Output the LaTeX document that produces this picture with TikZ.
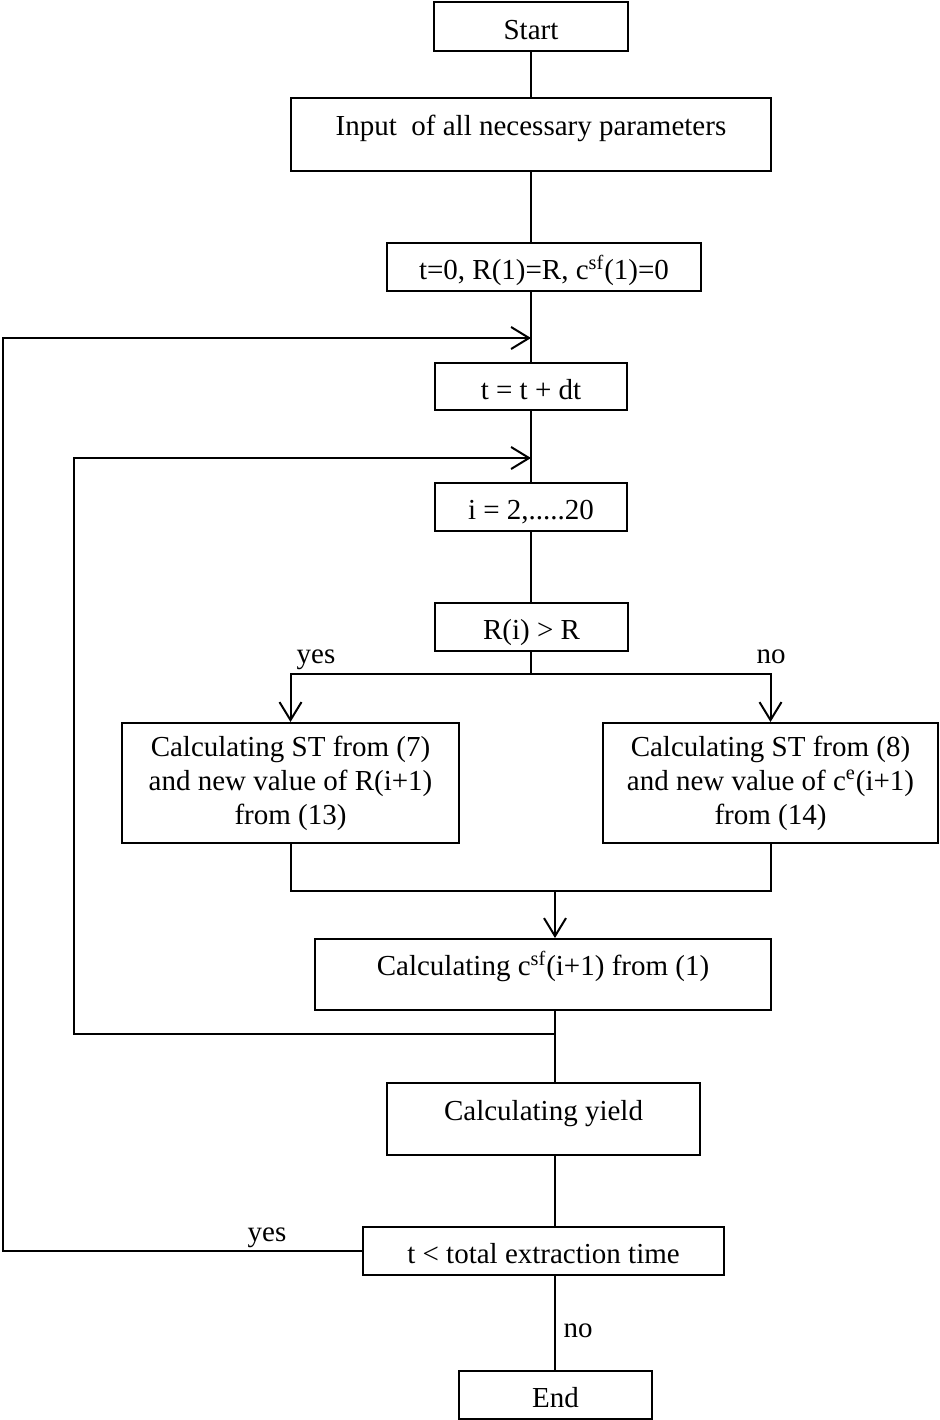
\documentclass[tikz,border=0pt]{standalone}
\usepackage{fontspec}
\setmainfont{Liberation Serif}
\usetikzlibrary{arrows.meta,positioning}
\tikzstyle{box} = [draw, line width=1pt, inner sep=2pt, align=center]
\tikzstyle{short} = [box, minimum height=24pt, text height=12.5pt, text depth=0pt]
\tikzstyle{tall} = [box, text height=10pt, text depth=9pt]
\tikzstyle{line} = [line width=1pt]
\tikzstyle{arrow} = [line width=1pt,-{Straight Barb[length=9pt,width=11pt,line width=1pt]}]

\begin{document}
\begin{tikzpicture}[x=0.5pt, y=-0.5pt, font=\fontsize{14.5}{17}\selectfont]
\useasboundingbox (0,0) rectangle (940,1420);

% Boxes
\node[short, minimum width=97pt, minimum height=24.5pt] (start) at (531,26.5) {Start};
\node[tall, minimum width=240pt, minimum height=36.5pt] (input) at (531,134.5) {Input \ of all necessary parameters};
\node[short, minimum width=157pt] (init) at (544,267) {t=0, R(1)=R, c\textsuperscript{sf}(1)=0};
\node[short, minimum width=96pt, minimum height=23.5pt] (tstep) at (531,386.5) {t = t + dt};
\node[short, minimum width=96pt] (iloop) at (531,507) {i = 2,.....20};
\node[short, minimum width=96.5pt] (cond) at (531.5,627) {R(i) > R};
\node[box, minimum width=168.5pt, minimum height=60pt] (left) at (290.5,783) {Calculating ST from (7)\\and new value of R(i+1)\\from (13)};
\node[box, minimum width=167.5pt, minimum height=60pt] (right) at (770.5,783) {Calculating ST from (8)\\and new value of c\textsuperscript{e}(i+1)\\from (14)};
\node[tall, minimum width=228pt, minimum height=35.5pt] (csf) at (543,974.5) {Calculating c\textsuperscript{sf}(i+1) from (1)};
\node[tall, minimum width=156.5pt, minimum height=36pt] (yield) at (543.5,1119) {Calculating yield};
\node[short, minimum width=180.5pt] (check) at (543.5,1251) {t < total extraction time};
\node[short, minimum width=96.5pt] (end) at (555.5,1395) {End};

% Labels
\node[anchor=base] (yesA) at (316,663) {yes};
\node[anchor=base] (noA) at (771,663) {no};
\node[anchor=base] (yesB) at (267,1241) {yes};
\node[anchor=base] (noB) at (578,1337) {no};

% Junctions
\coordinate (outerB) at (3,1251);
\coordinate (outerT) at (3,338);
\coordinate (outerE) at (531,338);
\coordinate (innerS) at (555,1034);
\coordinate (innerB) at (74,1034);
\coordinate (innerT) at (74,458);
\coordinate (innerE) at (531,458);
\coordinate (split) at (531,674);
\coordinate (merge) at (555,891);

% Main line
\draw[line] (start) -- (input);
\draw[line] (input.south) -- (input.south |- init.north);
\draw[line] (input.south |- init.south) -- (tstep.north);
\draw[line] (tstep) -- (iloop);
\draw[line] (iloop) -- (iloop |- cond.north);
\draw[line] (split |- cond.south) -- (split);

% Branches
\draw[arrow] (split) -| (left.north);
\draw[arrow] (split) -| (right.north);
\draw[line] (left.south) |- (right.south |- merge) -- (right.south);
\draw[arrow] (merge) -- (merge |- csf.north);
\draw[line] (merge |- csf.south) -- (merge |- yield.north);
\draw[line] (merge |- yield.south) -- (merge |- check.north);
\draw[line] (merge |- check.south) -- (merge |- end.north);

% Loops
\draw[arrow] (innerS) -- (innerB) -- (innerT) -- (innerE);
\draw[arrow] (check.west) -- (outerB) -- (outerT) -- (outerE);
\end{tikzpicture}
\end{document}
